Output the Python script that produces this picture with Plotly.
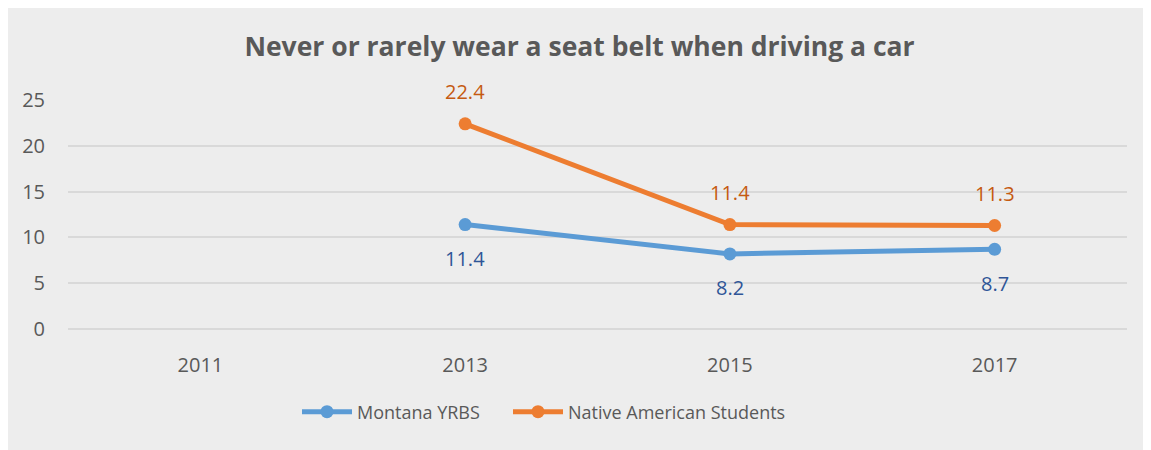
import plotly.graph_objects as go

years = ["2011", "2013", "2015", "2017"]
montana = [None, 11.4, 8.2, 8.7]
native = [None, 22.4, 11.4, 11.3]
y_ticks = [0, 5, 10, 15, 20, 25]

BLUE = "#5B9BD5"
ORANGE = "#ED7D31"
BLUE_LBL = "#2F5597"
ORANGE_LBL = "#C55A11"
FONT = "Open Sans"
TXT = "#595959"

fig = go.Figure()
fig.add_trace(go.Scatter(x=years, y=montana, mode="lines+markers", name="Montana YRBS",
                         line=dict(color=BLUE, width=5), marker=dict(size=13, color=BLUE),
                         legend="legend"))
fig.add_trace(go.Scatter(x=years, y=native, mode="lines+markers", name="Native American Students",
                         line=dict(color=ORANGE, width=5), marker=dict(size=13, color=ORANGE),
                         legend="legend2"))

annotations = []
for i, yv in enumerate(montana):
    if yv is not None:
        annotations.append(dict(x=i, y=yv, xref="x", yref="y", text=f"{yv:.1f}", showarrow=False,
                                yshift=-34, font=dict(family=FONT, size=20, color=BLUE_LBL)))
for i, yv in enumerate(native):
    if yv is not None:
        annotations.append(dict(x=i, y=yv, xref="x", yref="y", text=f"{yv:.1f}", showarrow=False,
                                yshift=32, font=dict(family=FONT, size=20, color=ORANGE_LBL)))

# page body has an 8px margin; figure coordinates = reference pixel - 8
W, H = 1143, 442
L, R, T, B = 60, 24, 92, 121
pw, ph = W - L - R, H - T - B

fig.add_shape(type="rect", xref="paper", yref="paper",
              x0=(-2 - L) / pw, x1=(W - 1 - L) / pw,
              y0=-(H + 2 - T - ph) / ph, y1=1 + (T + 1) / ph,
              fillcolor="#EDEDED", line=dict(color="#D9D9D9", width=1), layer="below")

leg_y = -(404 - T - ph) / ph
leg_common = dict(orientation="h", xanchor="left", y=leg_y, yanchor="middle",
                  font=dict(family=FONT, size=18, color=TXT), bgcolor="rgba(0,0,0,0)",
                  itemwidth=50)

fig.update_layout(
    width=W, height=H,
    margin=dict(l=L, r=R, t=T, b=B),
    paper_bgcolor="white", plot_bgcolor="rgba(0,0,0,0)",
    annotations=annotations,
    title=dict(text="<b>Never or rarely wear a seat belt when driving a car</b>",
               x=0.5, xref="container", xanchor="center", y=1 - 39 / H, yanchor="middle",
               font=dict(family=FONT, size=26.5, color=TXT)),
    font=dict(family=FONT, color=TXT),
    showlegend=True,
    legend=dict(x=(289 - L) / pw, **leg_common),
    legend2=dict(x=(500 - L) / pw, **leg_common),
    xaxis=dict(type="category", range=[-0.5, 3.5], showgrid=False, showline=False, zeroline=False,
               ticks="outside", ticklen=18, tickcolor="rgba(0,0,0,0)",
               tickfont=dict(family=FONT, size=20, color=TXT)),
    yaxis=dict(range=[0, 25], tickvals=y_ticks, showgrid=True, gridcolor="#D9D9D9", gridwidth=2,
               zeroline=True, zerolinecolor="#D9D9D9", zerolinewidth=2, showline=False,
               ticks="outside", ticklen=18, tickcolor="rgba(0,0,0,0)",
               tickfont=dict(family=FONT, size=20, color=TXT)),
)

fig.write_html("out.html")
